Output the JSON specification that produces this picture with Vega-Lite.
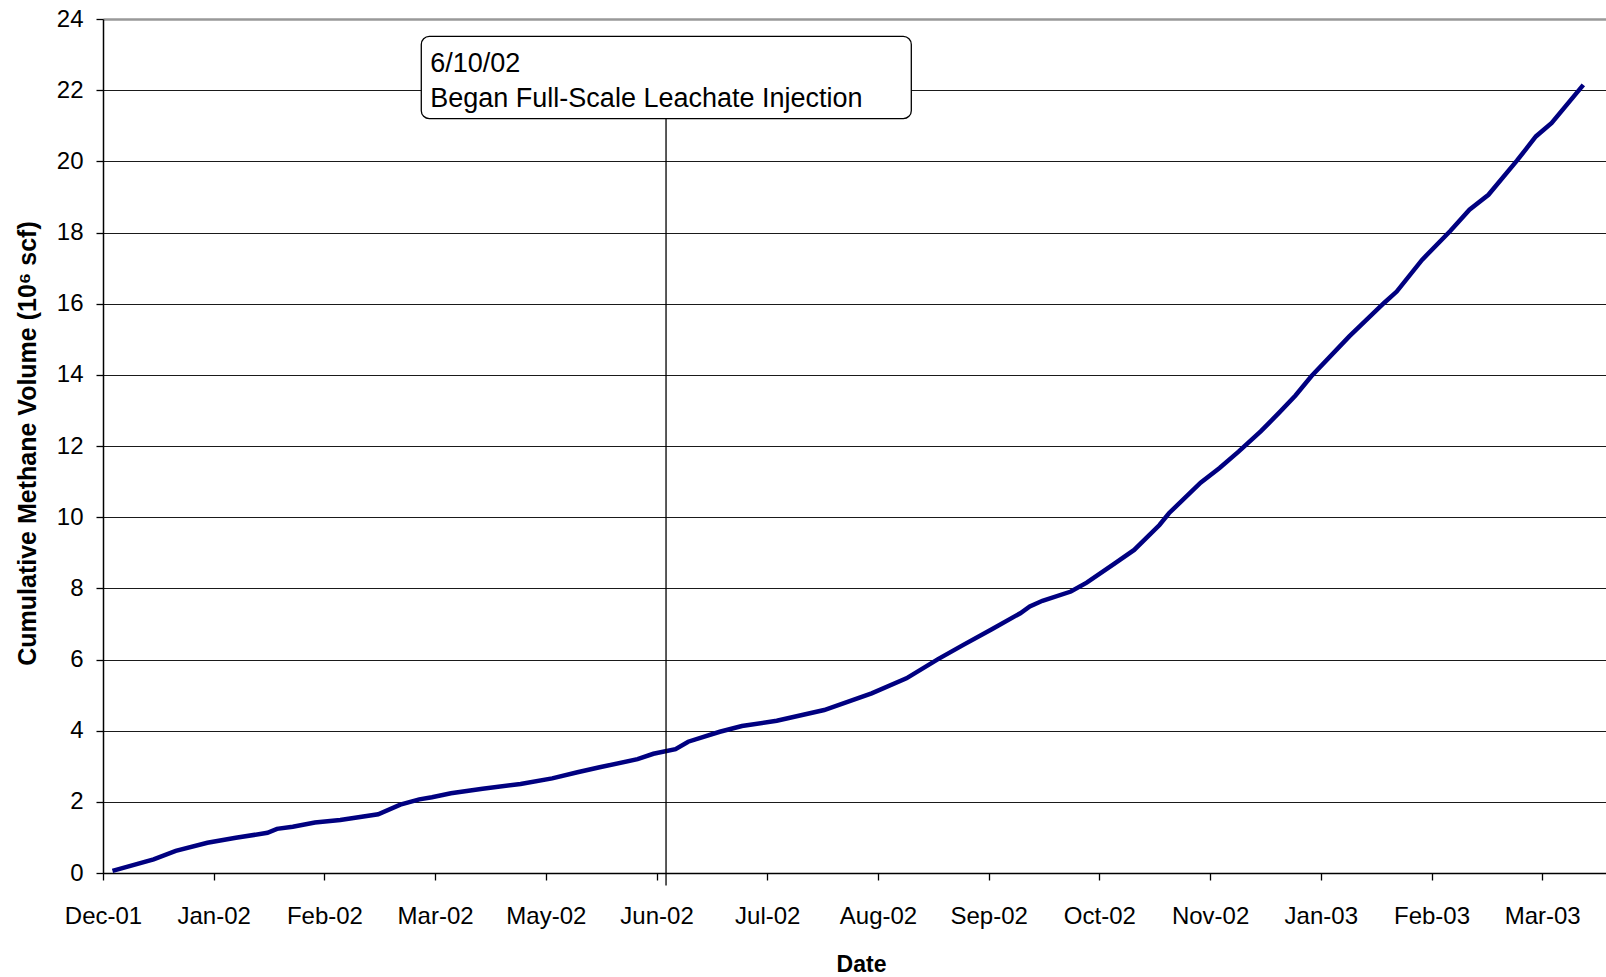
{
  "$schema": "https://vega.github.io/schema/vega-lite/v6.json",
  "width": 1503,
  "height": 854,
  "autosize": {"type": "none"},
  "padding": {"left": 103, "top": 19, "right": 0, "bottom": 104},
  "background": "white",
  "config": {"view": {"stroke": null}, "font": "Liberation Sans"},
  "datasets": {
    "methane": [
      {"date": "2001-12-17", "value": 0.06},
      {"date": "2001-12-30", "value": 0.385},
      {"date": "2002-01-06", "value": 0.62},
      {"date": "2002-01-16", "value": 0.85},
      {"date": "2002-01-25", "value": 0.99},
      {"date": "2002-02-04", "value": 1.13},
      {"date": "2002-02-07", "value": 1.24},
      {"date": "2002-02-12", "value": 1.30},
      {"date": "2002-02-19", "value": 1.42},
      {"date": "2002-02-27", "value": 1.49},
      {"date": "2002-03-11", "value": 1.65},
      {"date": "2002-03-18", "value": 1.92},
      {"date": "2002-03-24", "value": 2.07},
      {"date": "2002-03-28", "value": 2.13},
      {"date": "2002-04-03", "value": 2.24},
      {"date": "2002-04-13", "value": 2.37},
      {"date": "2002-04-25", "value": 2.50},
      {"date": "2002-05-05", "value": 2.66},
      {"date": "2002-05-13", "value": 2.83},
      {"date": "2002-05-20", "value": 2.97},
      {"date": "2002-06-01", "value": 3.20},
      {"date": "2002-06-06", "value": 3.35},
      {"date": "2002-06-13", "value": 3.48},
      {"date": "2002-06-17", "value": 3.69},
      {"date": "2002-06-27", "value": 3.97},
      {"date": "2002-07-04", "value": 4.13},
      {"date": "2002-07-15", "value": 4.28},
      {"date": "2002-07-30", "value": 4.58},
      {"date": "2002-08-14", "value": 5.05},
      {"date": "2002-08-25", "value": 5.47},
      {"date": "2002-09-04", "value": 6.01},
      {"date": "2002-09-12", "value": 6.41},
      {"date": "2002-09-21", "value": 6.85},
      {"date": "2002-09-30", "value": 7.30},
      {"date": "2002-10-03", "value": 7.49},
      {"date": "2002-10-07", "value": 7.65},
      {"date": "2002-10-16", "value": 7.91},
      {"date": "2002-10-21", "value": 8.16},
      {"date": "2002-10-30", "value": 8.71},
      {"date": "2002-11-05", "value": 9.08},
      {"date": "2002-11-13", "value": 9.78},
      {"date": "2002-11-16", "value": 10.11},
      {"date": "2002-11-26", "value": 10.97},
      {"date": "2002-12-02", "value": 11.38},
      {"date": "2002-12-08", "value": 11.84},
      {"date": "2002-12-15", "value": 12.41},
      {"date": "2002-12-21", "value": 12.95},
      {"date": "2002-12-26", "value": 13.42},
      {"date": "2002-12-31", "value": 13.96},
      {"date": "2003-01-12", "value": 15.08},
      {"date": "2003-01-23", "value": 16.02},
      {"date": "2003-01-27", "value": 16.34},
      {"date": "2003-02-04", "value": 17.23},
      {"date": "2003-02-13", "value": 18.05},
      {"date": "2003-02-19", "value": 18.64},
      {"date": "2003-02-25", "value": 19.06},
      {"date": "2003-03-06", "value": 20.02},
      {"date": "2003-03-12", "value": 20.70},
      {"date": "2003-03-17", "value": 21.08},
      {"date": "2003-03-27", "value": 22.15}
    ],
    "marker": [
      {"date": "2002-06-10", "value": -0.35, "value2": 21.3}
    ],
    "box": [
      {"date": "2002-03-24T15:00:00Z", "date2": "2002-08-26T13:00:00Z", "value": 21.2, "value2": 23.51}
    ],
    "notes": [
      {"date": "2002-03-24T15:00:00Z", "value": 22.52, "label": "6/10/02"},
      {"date": "2002-03-24T15:00:00Z", "value": 21.52, "label": "Began Full-Scale Leachate Injection"}
    ]
  },
  "layer": [
    {
      "data": {"name": "methane"},
      "mark": {"type": "line", "color": "#000080", "strokeWidth": 4.5},
      "encoding": {
        "x": {
          "field": "date",
          "type": "temporal",
          "scale": {
            "type": "utc",
            "domain": [
              {"year": 2001, "month": 12, "date": 14, "utc": true},
              {"year": 2003, "month": 4, "date": 3, "hours": 4, "utc": true}
            ]
          },
          "axis": {
            "title": "Date",
            "labelExpr": "utcFormat(datum.value, '%b-%y')",
            "values": [
              {"year": 2001, "month": 12, "date": 14, "utc": true},
              {"year": 2002, "month": 1, "date": 18, "utc": true},
              {"year": 2002, "month": 2, "date": 22, "utc": true},
              {"year": 2002, "month": 3, "date": 29, "utc": true},
              {"year": 2002, "month": 5, "date": 3, "utc": true},
              {"year": 2002, "month": 6, "date": 7, "utc": true},
              {"year": 2002, "month": 7, "date": 12, "utc": true},
              {"year": 2002, "month": 8, "date": 16, "utc": true},
              {"year": 2002, "month": 9, "date": 20, "utc": true},
              {"year": 2002, "month": 10, "date": 25, "utc": true},
              {"year": 2002, "month": 11, "date": 29, "utc": true},
              {"year": 2003, "month": 1, "date": 3, "utc": true},
              {"year": 2003, "month": 2, "date": 7, "utc": true},
              {"year": 2003, "month": 3, "date": 14, "utc": true}
            ],
            "grid": false,
            "domainColor": "#000000",
            "domainWidth": 1.5,
            "tickColor": "#000000",
            "tickSize": 7,
            "tickWidth": 1.3,
            "labelFont": "Liberation Sans",
            "labelFontSize": 24,
            "labelColor": "#000000",
            "labelBaseline": "alphabetic",
            "labelPadding": 43,
            "labelFlush": false,
            "labelOverlap": false,
            "titleFont": "Liberation Sans",
            "titleFontSize": 23,
            "titleFontWeight": "bold",
            "titleColor": "#000000",
            "titleX": 758,
            "titleY": 98,
            "titleAlign": "center",
            "titleBaseline": "alphabetic"
          }
        },
        "y": {
          "field": "value",
          "type": "quantitative",
          "scale": {"domain": [0, 24], "nice": false, "zero": false},
          "axis": {
            "title": "Cumulative Methane Volume (10⁶ scf)",
            "values": [0, 2, 4, 6, 8, 10, 12, 14, 16, 18, 20, 22, 24],
            "grid": true,
            "gridColor": {"condition": {"test": "datum.value == 24", "value": "#999999"}, "value": "#1a1a1a"},
            "gridWidth": {"condition": {"test": "datum.value == 24", "value": 2.5}, "value": 1},
            "domainColor": "#000000",
            "domainWidth": 1.5,
            "tickColor": "#000000",
            "tickSize": 7,
            "tickWidth": 1.3,
            "labelFont": "Liberation Sans",
            "labelFontSize": 24,
            "labelColor": "#000000",
            "labelPadding": 13,
            "labelFlush": false,
            "labelOverlap": false,
            "titleFont": "Liberation Sans",
            "titleFontSize": 25,
            "titleFontWeight": "bold",
            "titleColor": "#000000",
            "titleAngle": 270,
            "titleX": -76,
            "titleY": 424,
            "titleAlign": "center",
            "titleBaseline": "middle"
          }
        }
      }
    },
    {
      "data": {"name": "marker"},
      "mark": {"type": "rule", "color": "#000000", "strokeWidth": 1.3},
      "encoding": {
        "x": {"field": "date", "type": "temporal"},
        "y": {"field": "value", "type": "quantitative"},
        "y2": {"field": "value2"}
      }
    },
    {
      "data": {"name": "box"},
      "mark": {"type": "rect", "fill": "#ffffff", "stroke": "#000000", "strokeWidth": 1.3, "cornerRadius": 8},
      "encoding": {
        "x": {"field": "date", "type": "temporal"},
        "x2": {"field": "date2"},
        "y": {"field": "value", "type": "quantitative"},
        "y2": {"field": "value2"}
      }
    },
    {
      "data": {"name": "notes"},
      "mark": {"type": "text", "align": "left", "baseline": "alphabetic", "dx": 9, "font": "Liberation Sans", "fontSize": 27, "color": "#000000"},
      "encoding": {
        "x": {"field": "date", "type": "temporal"},
        "y": {"field": "value", "type": "quantitative"},
        "text": {"field": "label"}
      }
    }
  ]
}
